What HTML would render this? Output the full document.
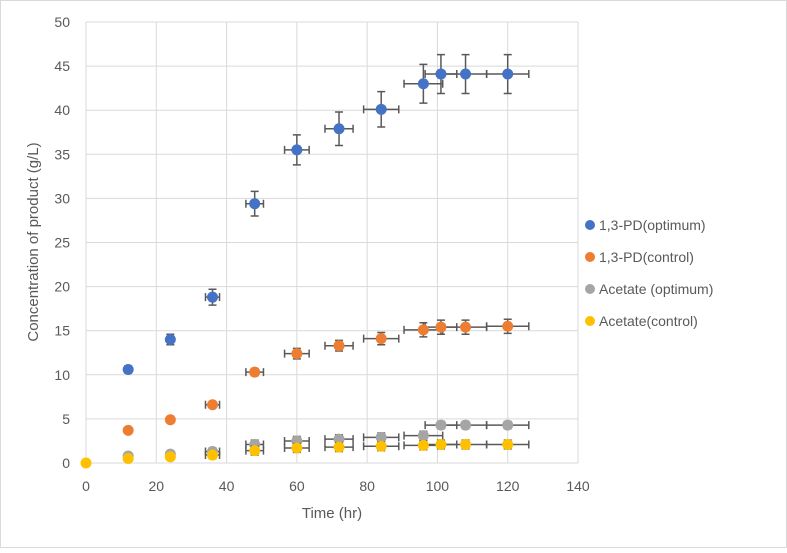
<!DOCTYPE html>
<html><head><meta charset="utf-8"><style>
body{margin:0;background:#fff;font-family:"Liberation Sans",sans-serif}
svg text{font-family:"Liberation Sans",sans-serif;fill:#595959}
</style></head><body>
<svg width="787" height="548">
<rect x="0.5" y="0.5" width="786" height="547" fill="#fff" stroke="#d9d9d9"/>
<g id="grid"></g><g id="marks"></g><g id="axes"></g><g id="legend"></g>
</svg>
<script>
const xs=[0,12,24,36,48,60,72,84,96,101,108,120];
const pdOpt=[null,10.6,14,18.8,29.4,35.5,37.9,40.1,43,44.1,44.1,44.1];
const pdOptErr=[0,0.4,0.6,0.9,1.4,1.7,1.9,2,2.2,2.2,2.2,2.2];
const pdCtl=[null,3.7,4.9,6.6,10.3,12.4,13.3,14.1,15.1,15.4,15.4,15.5];
const pdCtlErr=[0,0.2,0.3,0.3,0.4,0.6,0.6,0.7,0.8,0.8,0.8,0.8];
const acOpt=[null,0.8,1.0,1.3,2.1,2.5,2.7,2.9,3.1,4.3,4.3,4.3];
const acOptErr=[0,0.2,0.3,0.4,0.5,0.5,0.5,0.5,0.5,0.4,0.4,0.4];
const acCtl=[0,0.5,0.7,0.9,1.4,1.7,1.8,1.9,2.0,2.1,2.1,2.1];
const acCtlErr=[0,0.2,0.3,0.4,0.5,0.5,0.5,0.5,0.5,0.5,0.5,0.5];
const xErr=[0,0,0,2,2.5,3.5,4,5,5.5,4.5,6,6];
const xTicks=[0,20,40,60,80,100,120,140];
const yTicks=[0,5,10,15,20,25,30,35,40,45,50];
const X=v=>86+v*(492/140), Y=v=>463-v*(441/50);
const NS="http://www.w3.org/2000/svg";
function mk(p,t,a){const e=document.createElementNS(NS,t);for(const k in a)e.setAttribute(k,a[k]);p.appendChild(e);return e;}
const grid=document.getElementById('grid'),axes=document.getElementById('axes'),marks=document.getElementById('marks'),leg=document.getElementById('legend');
yTicks.forEach(t=>{const l=mk(grid,'line',{x1:86,x2:578,y1:Y(t),y2:Y(t),stroke:'#d9d9d9'});


const tx=mk(axes,'text',{x:70,y:Y(t)+5,'font-size':14,'text-anchor':'end'});tx.textContent=t;

});
xTicks.forEach(t=>{const l=mk(grid,'line',{x1:X(t),x2:X(t),y1:Y(0),y2:Y(50),stroke:'#d9d9d9'});


const tx=mk(axes,'text',{x:X(t),y:491,'font-size':14,'text-anchor':'middle'});tx.textContent=t;

});
let t=mk(axes,'text',{x:332,y:518,'font-size':15,'text-anchor':'middle'});t.textContent='Time (hr)';


t=mk(axes,'text',{x:0,y:0,'font-size':15,'text-anchor':'middle',transform:'translate(38,242) rotate(-90)'});t.textContent='Concentration of product (g/L)';


const series=[[pdOpt,pdOptErr,'#4472c4','1,3-PD(optimum)'],[pdCtl,pdCtlErr,'#ed7d31','1,3-PD(control)'],[acOpt,acOptErr,'#a5a5a5','Acetate (optimum)'],[acCtl,acCtlErr,'#ffc000','Acetate(control)']];
series.forEach((s,si)=>{const g=mk(marks,'g',{});


const eb=mk(g,'g',{stroke:'#595959','stroke-width':1.5,fill:'none'});
s[0].forEach((v,i)=>{if(v==null)return;const cx=X(xs[i]),cy=Y(v);
if(xErr[i]>0){const a=X(xs[i]-xErr[i]),b=X(xs[i]+xErr[i]);mk(eb,'path',{d:`M${a},${cy}H${b}M${a},${cy-4}V${cy+4}M${b},${cy-4}V${cy+4}`});}
if(s[1][i]>0){const a=Y(v-s[1][i]),b=Y(v+s[1][i]);mk(eb,'path',{d:`M${cx},${a}V${b}M${cx-4},${a}H${cx+4}M${cx-4},${b}H${cx+4}`});}
});
s[0].forEach((v,i)=>{if(v==null)return;const c=mk(g,'circle',{cx:X(xs[i]),cy:Y(v),r:5.5,fill:s[2]});

});
const ly=225+si*32;const le=mk(leg,'g',{});


mk(le,'circle',{cx:590,cy:ly,r:5,fill:s[2]});
const lt=mk(le,'text',{x:599,y:ly+5,'font-size':14});lt.textContent=s[3];});
</script>
</body></html>
